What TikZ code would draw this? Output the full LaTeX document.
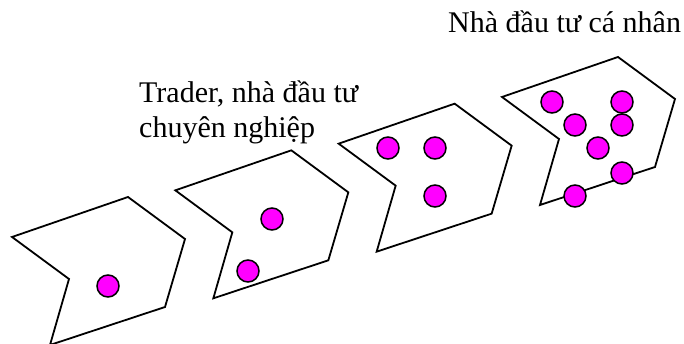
\documentclass[tikz,border=0pt]{standalone}
\usepackage{fontspec}
\setmainfont{Liberation Serif}
\definecolor{coinpink}{RGB}{255,0,255}

\begin{document}
\begin{tikzpicture}[x=1pt,y=-1pt,line join=miter,
  font=\fontsize{30}{35}\selectfont]
 \tikzset{notchbox/.style={draw=black,line width=1.8pt},
  coin/.style={circle,draw=black,fill=coinpink,line width=1.5pt,minimum size=22pt,inner sep=0pt}}
 \useasboundingbox (0,0) rectangle (684,344);
 % four notched arrows, each one shifted up the slope
 \foreach \k in {0,...,3}
  \draw[notchbox,shift={(163.33*\k,-46.67*\k)}] (12,237) -- (128,197) -- (185,239) -- (165,307) -- (50,345) -- (69,279) -- cycle;
 % the coins
 \node[coin] (a1) at (108,286) {};
 \node[coin] (b1) at (272,219) {};
 \node[coin] (b2) at (248,271) {};
 \node[coin] (c1) at (388,148) {};
 \node[coin] (c2) at (435,148) {};
 \node[coin] (c3) at (435,196) {};
 \node[coin] (d1) at (552,102) {};
 \node[coin] (d2) at (622,102) {};
 \node[coin] (d3) at (575,125) {};
 \node[coin] (d4) at (622,125) {};
 \node[coin] (d5) at (598,148) {};
 \node[coin] (d6) at (622,173) {};
 \node[coin] (d7) at (575,196) {};
 \node[anchor=base west,align=left,inner sep=0pt] (pro) at (139,138) {Trader, nhà đầu tư\\chuyên nghiệp};
 \node[anchor=base west,inner sep=0pt] (retail) at (448,33) {Nhà đầu tư cá nhân};
\end{tikzpicture}
\end{document}
